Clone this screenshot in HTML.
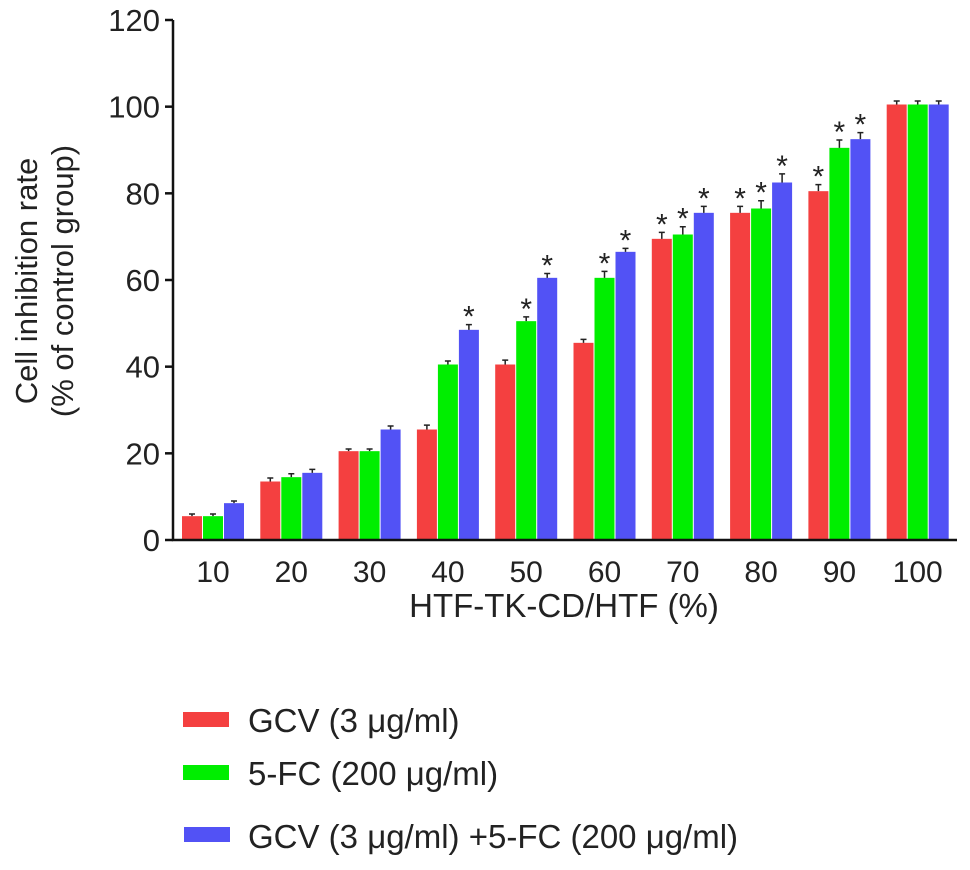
<!DOCTYPE html>
<html><head><meta charset="utf-8"><style>
body{margin:0;background:#fff}
text{font-family:"Liberation Sans",Arial,sans-serif;fill:#222}
</style></head><body>
<svg width="970" height="865">
<g id="plot"></g>
<text transform="translate(37,281) rotate(-90)" text-anchor="middle" font-size="31">Cell inhibition rate</text>
<text transform="translate(73,281) rotate(-90)" text-anchor="middle" font-size="31">(% of control group)</text>
<text x="564" y="617" text-anchor="middle" font-size="33">HTF-TK-CD/HTF (%)</text>
<g>
<rect x="183" y="712" width="46" height="15" fill="#f44040"/>
<text x="248" y="732" font-size="33">GCV (3 μg/ml)</text>
<rect x="183" y="765" width="46" height="15" fill="#00ee00"/>
<text x="248" y="785" font-size="33">5-FC (200 μg/ml)</text>
<rect x="184" y="827" width="46" height="15" fill="#5252f5"/>
<text x="248" y="848" font-size="33">GCV (3 μg/ml) +5-FC (200 μg/ml)</text>
</g>
</svg>
<script>
const categories=["10","20","30","40","50","60","70","80","90","100"];
const gcv=[5.5,13.5,20.5,25.5,40.5,45.5,69.5,75.5,80.5,100.5];
const fc=[5.5,14.5,20.5,40.5,50.5,60.5,70.5,76.5,90.5,100.5];
const combo=[8.5,15.5,25.5,48.5,60.5,66.5,75.5,82.5,92.5,100.5];
const gcvErr=[0.5,0.8,0.5,1,1,0.8,1.5,1.5,1.5,0.8];
const fcErr=[0.5,0.8,0.5,0.8,1,1.5,1.8,1.8,1.8,0.8];
const comboErr=[0.5,0.8,0.8,1.2,1,0.8,1.5,2,1.5,0.8];
const gcvStar=[0,0,0,0,0,0,1,1,1,0];
const fcStar=[0,0,0,0,1,1,1,1,1,0];
const comboStar=[0,0,0,1,1,1,1,1,1,0];
const yTicks=[0,20,40,60,80,100,120];
const NS='http://www.w3.org/2000/svg';
const g=document.getElementById('plot');
const y0=540,yScale=520/120;
function yPos(v){return y0-v*yScale;}
function gx(i){return 182+i*78.3;}
function mk(t,a){const e=document.createElementNS(NS,t);for(const k in a)e.setAttribute(k,a[k]);g.appendChild(e);return e;}
const series=[[gcv,gcvErr,gcvStar,'#f44040','gcv'],[fc,fcErr,fcStar,'#00ee00','5fc'],[combo,comboErr,comboStar,'#5252f5','combo']];
categories.forEach((c,i)=>{
 series.forEach((s,j)=>{
  const x=gx(i)+j*21,w=20,v=s[0][i];
  const r=mk('rect',{x:x,y:yPos(v),width:w,height:y0-yPos(v),fill:s[3]});
  
  
  const cx=x+w/2,top=yPos(v+s[1][i]);
  const e=mk('path',{d:`M${cx},${yPos(v)}V${top}M${cx-3},${top}H${cx+3}`,stroke:'#222','stroke-width':1.5,fill:'none'});
  
  
  if(s[2][i]){
   const t=mk('text',{x:cx,y:top+2,'text-anchor':'middle','font-size':30});
   t.textContent='*';
   
   
  }
 });
 const l=mk('text',{x:gx(i)+31,y:582,'text-anchor':'middle','font-size':30});
 l.textContent=c;
 
 
});
yTicks.forEach(v=>{
 const t=mk('path',{d:`M165,${yPos(v)}H173`,stroke:'#111','stroke-width':2.5});
 
 
 const l=mk('text',{x:160,y:yPos(v)+11,'text-anchor':'end','font-size':31});
 l.textContent=v;
 
 
});
const ax=mk('path',{d:`M173,${yPos(120)}V${y0}H957`,stroke:'#111','stroke-width':2.5,fill:'none'});


</script>
</body></html>
